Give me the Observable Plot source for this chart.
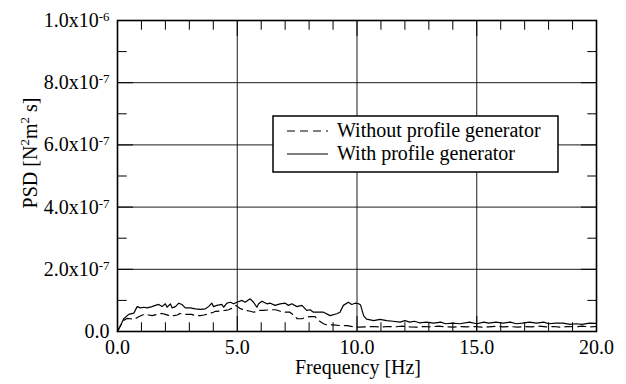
<!DOCTYPE html>
<html>
<head>
<meta charset="utf-8">
<script src="https://cdn.jsdelivr.net/npm/d3@7"></script>
<script src="https://cdn.jsdelivr.net/npm/@observablehq/plot@0.6"></script>
<style>
  body { margin: 0; background: #fff; }
  #chart svg { font-family: "Liberation Serif", "Times New Roman", serif; }
</style>
</head>
<body>
<div id="chart"></div>
<script>
// PSD values are in units of 1e-8 N^2 m^2 s
const freqWith = [0, 0.05, 0.15, 0.26, 0.47, 0.68, 0.82, 0.96, 1.1, 1.24, 1.44, 1.58, 1.72, 1.86, 2.0, 2.07, 2.21, 2.28, 2.42, 2.56, 2.69, 2.83, 3.04, 3.25, 3.46, 3.67, 3.8, 3.94, 4.01, 4.15, 4.36, 4.43, 4.57, 4.71, 4.85, 4.99, 5.2, 5.33, 5.54, 5.68, 5.82, 5.89, 6.03, 6.24, 6.38, 6.58, 6.79, 7.0, 7.14, 7.28, 7.49, 7.7, 7.9, 8.04, 8.18, 8.39, 8.6, 8.88, 9.15, 9.29, 9.43, 9.64, 9.78, 9.92, 10.05, 10.15, 10.28, 10.4, 10.7, 10.96, 11.24, 11.5, 11.8, 12.0, 12.2, 12.4, 12.6, 12.9, 13.2, 13.5, 13.7, 14.0, 14.3, 14.7, 15.0, 15.3, 15.5, 15.8, 16.1, 16.4, 16.65, 16.9, 17.2, 17.5, 17.8, 18.0, 18.3, 18.6, 18.9, 19.15, 19.4, 19.7, 20.0];
const psdWith = [0, 0.8, 2.3, 4.1, 5.5, 5.9, 8.0, 7.6, 7.8, 7.6, 8.0, 8.4, 8.7, 8.0, 8.9, 7.8, 8.9, 7.6, 8.0, 9.1, 8.7, 7.6, 7.6, 7.3, 7.1, 7.3, 8.0, 9.1, 8.0, 8.4, 8.7, 7.8, 9.1, 9.4, 8.9, 9.4, 10.0, 9.4, 10.5, 9.4, 7.8, 8.9, 9.7, 8.9, 9.1, 8.4, 8.9, 9.1, 8.4, 8.9, 8.0, 8.4, 6.8, 7.0, 6.2, 6.2, 6.2, 5.1, 5.7, 6.2, 8.4, 9.4, 8.7, 9.1, 9.0, 8.5, 5.0, 4.0, 3.5, 3.9, 3.5, 3.3, 3.0, 3.5, 3.0, 3.3, 2.8, 3.0, 2.7, 3.0, 2.5, 2.7, 2.5, 3.0, 2.5, 3.0, 2.7, 3.0, 2.7, 3.0, 2.5, 2.7, 3.0, 2.7, 3.0, 2.5, 2.7, 2.7, 2.3, 2.5, 2.3, 2.7, 2.6];

const freqWithout = [0, 0.1, 0.25, 0.4, 0.54, 0.7, 0.9, 1.1, 1.3, 1.45, 1.65, 1.85, 2.0, 2.2, 2.35, 2.5, 2.6, 2.75, 2.9, 3.1, 3.25, 3.45, 3.6, 3.8, 4.0, 4.1, 4.3, 4.5, 4.65, 4.85, 4.95, 5.1, 5.3, 5.5, 5.7, 5.9, 6.1, 6.4, 6.6, 6.8, 7.0, 7.2, 7.4, 7.5, 7.7, 7.9, 8.05, 8.25, 8.4, 8.6, 8.75, 9.0, 9.3, 9.6, 9.85, 10.1, 10.4, 10.7, 11.0, 11.3, 11.6, 11.9, 12.2, 12.5, 12.8, 13.1, 13.4, 13.7, 14.0, 14.3, 14.6, 14.9, 15.2, 15.5, 15.8, 16.1, 16.4, 16.7, 17.0, 17.3, 17.6, 17.9, 18.2, 18.5, 18.8, 19.1, 19.4, 19.7, 20.0];
const psdWithout = [0, 1.5, 3.5, 4.2, 4.1, 3.9, 4.8, 5.5, 5.3, 5.1, 5.5, 5.8, 5.5, 5.0, 5.1, 5.3, 5.8, 5.5, 5.5, 5.5, 5.1, 5.1, 5.3, 5.7, 6.2, 6.5, 6.6, 6.8, 7.0, 7.8, 8.4, 7.5, 6.8, 6.6, 6.2, 6.8, 6.8, 7.0, 7.0, 6.5, 6.2, 6.2, 5.0, 4.1, 4.1, 4.6, 4.8, 4.8, 3.5, 2.5, 2.1, 2.1, 1.9, 1.9, 1.5, 1.4, 1.5, 1.6, 1.4, 1.6, 1.5, 1.7, 1.5, 1.4, 1.6, 1.5, 1.7, 1.5, 1.4, 1.6, 1.5, 1.6, 1.4, 1.5, 1.7, 1.5, 1.6, 1.4, 1.6, 1.5, 1.7, 1.5, 1.6, 1.4, 1.6, 1.5, 1.7, 1.5, 1.6];

const xTicks = [0, 5, 10, 15, 20];
const xTickLabels = ["0.0", "5.0", "10.0", "15.0", "20.0"];
const yTicks = [0, 20, 40, 60, 80, 100];
const yTickLabels = ["0.0", "2.0x10^-7", "4.0x10^-7", "6.0x10^-7", "8.0x10^-7", "1.0x10^-6"];
const xMinor = [0,1,2,3,4,5,6,7,8,9,10,11,12,13,14,15,16,17,18,19,20];
const yMinor = [0,10,20,30,40,50,60,70,80,90,100];
const seriesNames = ["Without profile generator", "With profile generator"];
const xTitle = "Frequency [Hz]";

const withData = freqWith.map((f, i) => ({f, v: psdWith[i]}));
const withoutData = freqWithout.map((f, i) => ({f, v: psdWithout[i]}));

const tickShape = { draw(ctx, l) { ctx.moveTo(0, 0); ctx.lineTo(0, -l); } };
const isMajorX = d => d % 5 === 0;
const isMajorY = d => d % 20 === 0;

const FS = 20;
const SUP = 13;
const chart = Plot.plot({
  width: 626,
  height: 384,
  marginLeft: 117,
  marginRight: 30,
  marginTop: 20,
  marginBottom: 53,
  style: { fontFamily: '"Liberation Serif", serif', fontSize: FS + "px", background: "#fff", color: "black" },
  x: { domain: [0, 20] },
  y: { domain: [0, 100] },
  marks: [
    Plot.ruleX([5, 10, 15], { stroke: "black", strokeWidth: 0.9 }),
    Plot.ruleY([20, 40, 60, 80], { stroke: "black", strokeWidth: 0.9 }),
    // inward ticks: bottom, top, left, right
    Plot.vector(xMinor, { x: d => d, y: d => 0, length: d => isMajorX(d) ? 12 : 7, rotate: 0, anchor: "start", shape: tickShape, stroke: "black", strokeWidth: 1 }),
    Plot.vector(xMinor, { x: d => d, y: d => 100, length: d => isMajorX(d) ? 12 : 7, rotate: 180, anchor: "start", shape: tickShape, stroke: "black", strokeWidth: 1 }),
    Plot.vector(yMinor, { x: d => 0, y: d => d, length: d => isMajorY(d) ? 12 : 7, rotate: 90, anchor: "start", shape: tickShape, stroke: "black", strokeWidth: 1 }),
    Plot.vector(yMinor, { x: d => 20, y: d => d, length: d => isMajorY(d) ? 12 : 7, rotate: -90, anchor: "start", shape: tickShape, stroke: "black", strokeWidth: 1 }),
    Plot.line(withoutData, { x: "f", y: "v", stroke: "black", strokeWidth: 1.2, strokeDasharray: "8,5" }),
    Plot.line(withData, { x: "f", y: "v", stroke: "black", strokeWidth: 1.2 }),
    Plot.frame({ stroke: "black", strokeWidth: 1.6 }),
    Plot.axisX(xTicks, { tickSize: 0, tickPadding: 8, tickFormat: (d) => xTickLabels[xTicks.indexOf(d)], fontSize: FS, label: null }),
    Plot.axisY(yTicks, { tickSize: 0, tickPadding: 8, tickFormat: (d) => yTickLabels[yTicks.indexOf(d)], fontSize: FS, label: null })
  ]
});

const svg = d3.select(chart);
// superscripts in y tick labels
svg.selectAll('g[aria-label="y-axis tick label"] text').each(function () {
  const el = d3.select(this);
  const s = el.text();
  if (s.includes("^")) {
    const [base, sup] = s.split("^");
    el.text(base);
    el.append("tspan").attr("dy", "-0.45em").attr("font-size", SUP).text(sup);
  }
});

// x-axis title
svg.append("text")
  .attr("x", 358).attr("y", 374)
  .attr("text-anchor", "middle")
  .attr("font-size", FS)
  .style("fill", "black")
  .text(xTitle);

// y-axis title with superscripts
const yt = svg.append("text")
  .attr("transform", "translate(37,153) rotate(-90)")
  .attr("text-anchor", "middle")
  .attr("font-size", FS)
  .style("fill", "black");
yt.append("tspan").text("PSD [N");
yt.append("tspan").attr("dy", -8).attr("font-size", SUP).text("2");
yt.append("tspan").attr("dy", 8).text("m");
yt.append("tspan").attr("dy", -8).attr("font-size", SUP).text("2");
yt.append("tspan").attr("dy", 8).text(" s]");

// legend
const lg = svg.append("g");
lg.append("rect").attr("x", 273).attr("y", 116).attr("width", 285).attr("height", 56)
  .style("fill", "#ffffff").style("stroke", "black").style("stroke-width", 1.5);
const rows = [{y: 131, dash: "8,5"}, {y: 154, dash: null}];
rows.forEach((r, i) => {
  lg.append("line").attr("x1", 287).attr("x2", 328).attr("y1", r.y).attr("y2", r.y)
    .style("stroke", "black").style("stroke-width", 1.2).attr("stroke-dasharray", r.dash);
  lg.append("text").attr("x", 337).attr("y", r.y + 6)
    .attr("text-anchor", "start")
    .attr("font-size", FS).style("fill", "black").text(seriesNames[i]);
});

document.getElementById("chart").append(chart);
</script>
</body>
</html>
